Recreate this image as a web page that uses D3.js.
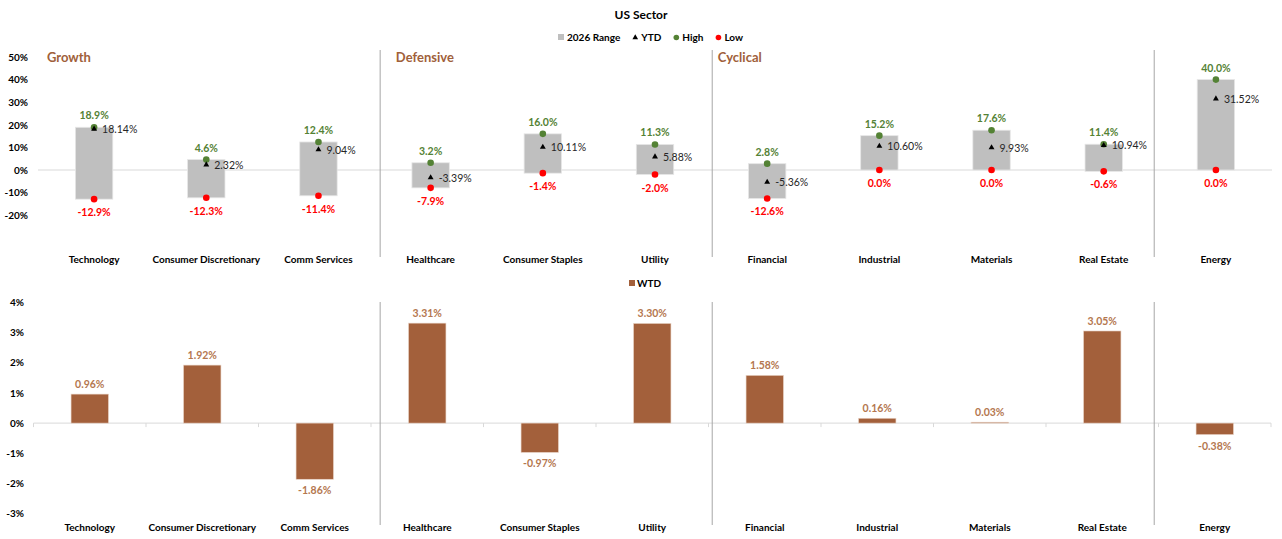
<!DOCTYPE html>
<html>
<head>
<meta charset="utf-8">
<script src="https://cdn.jsdelivr.net/npm/d3@7"></script>
<style>
  body { margin: 0; background: #fff; }
  svg { font-family: Lato, 'Open Sans', sans-serif; display: block; }
</style>
</head>
<body>
<div id="chart"></div>
<script>
// Data
const categories = ['Technology', 'Consumer Discretionary', 'Comm Services', 'Healthcare', 'Consumer Staples',
  'Utility', 'Financial', 'Industrial', 'Materials', 'Real Estate', 'Energy'];
const high = [18.9, 4.6, 12.4, 3.2, 16.0, 11.3, 2.8, 15.2, 17.6, 11.4, 40.0];
const low = [-12.9, -12.3, -11.4, -7.9, -1.4, -2.0, -12.6, 0.0, 0.0, -0.6, 0.0];
const ytd = [18.14, 2.32, 9.04, -3.39, 10.11, 5.88, -5.36, 10.60, 9.93, 10.94, 31.52];
const wtd = [0.96, 1.92, -1.86, 3.31, -0.97, 3.30, 1.58, 0.16, 0.03, 3.05, -0.38];

const groupNames = ['Growth', 'Defensive', 'Cyclical'];
const groupLabelAt = [0.08, 3.19, 6.06]; // in category units
const dividerAt = [3.05, 6.01, 9.95]; // in category units

const topTicks = [-20, -10, 0, 10, 20, 30, 40, 50];
const bottomTicks = [-3, -2, -1, 0, 1, 2, 3, 4];

const W = 1282;
const H = 539;

const gray = '#bfbfbf';
const green = '#548235';
const red = '#ff0000';
const brown = '#a3603b';
const brownText = '#b4774f';
const groupColor = '#a0603a';

const svg = d3
  .select('#chart')
  .append('svg')
  .attr('width', W)
  .attr('height', H);

// scales
const xTop = d3.scaleBand().domain(categories).range([38, 1272]);
const xBot = d3.scaleBand().domain(categories).range([33.5, 1271]);
const xUnits = d3.scaleLinear().domain([0, categories.length]).range([38, 1272]);

const yTop = d3.scaleLinear().domain([-20, 50]).range([215.2, 57]);
const yBot = d3.scaleLinear().domain([-3, 4]).range([513.7, 302.3]);

const barW = xTop.bandwidth() / 3;
const fmt1 = (v) => `${v.toFixed(1)}%`;
const fmt2 = (v) => `${v.toFixed(2)}%`;

// title
svg.append('text')
  .attr('x', 641)
  .attr('y', 19)
  .attr('text-anchor', 'middle')
  .attr('font-size', 12)
  .attr('font-weight', 'bold')
  .text('US Sector');

// TOP CHART
const topChart = svg.append('g');

// y axis
topChart.append('g')
  .attr('transform', 'translate(28,0)')
  .call(d3.axisLeft(yTop).tickValues(topTicks).tickSize(0).tickPadding(0).tickFormat((d) => `${d}%`))
  .call((g) => g.select('.domain').remove())
  .selectAll('text')
  .attr('font-family', 'Lato, sans-serif')
  .attr('font-size', 10)
  .attr('font-weight', 'bold')
  .attr('fill', '#000');

// zero line
topChart.append('line')
  .attr('x1', 38)
  .attr('x2', 1272)
  .attr('y1', yTop(0))
  .attr('y2', yTop(0))
  .attr('stroke', '#d9d9d9')
  .attr('stroke-width', 1);

// dividers
topChart.selectAll('.divTop')
  .data(dividerAt)
  .join('line')
  .attr('x1', (d) => xUnits(d))
  .attr('x2', (d) => xUnits(d))
  .attr('y1', 50)
  .attr('y2', 257)
  .attr('stroke', '#a6a6a6')
  .attr('stroke-width', 1);

// group labels
topChart.selectAll('.grp')
  .data(groupNames)
  .join('text')
  .attr('x', (d, i) => xUnits(groupLabelAt[i]))
  .attr('y', 62)
  .attr('font-size', 13)
  .attr('font-weight', 'bold')
  .attr('fill', groupColor)
  .text((d) => d);

// range bars
topChart.selectAll('.range')
  .data(categories)
  .join('rect')
  .attr('x', (d) => xTop(d) + xTop.bandwidth() / 2 - barW / 2)
  .attr('y', (d, i) => yTop(high[i]))
  .attr('width', barW)
  .attr('height', (d, i) => yTop(low[i]) - yTop(high[i]))
  .attr('fill', gray)
  .attr('stroke', '#e6e6e6')
  .attr('stroke-width', 0.8);

const cx = (d) => xTop(d) + xTop.bandwidth() / 2;

// high dots + labels
topChart.selectAll('.hi')
  .data(categories)
  .join('circle')
  .attr('cx', cx)
  .attr('cy', (d, i) => yTop(high[i]))
  .attr('r', 3.3)
  .attr('fill', green);

topChart.selectAll('.hiLbl')
  .data(categories)
  .join('text')
  .attr('x', cx)
  .attr('y', (d, i) => yTop(high[i]) - 8)
  .attr('text-anchor', 'middle')
  .attr('font-size', 10.5)
  .attr('font-weight', 'bold')
  .attr('fill', green)
  .text((d, i) => fmt1(high[i]));

// low dots + labels
topChart.selectAll('.lo')
  .data(categories)
  .join('circle')
  .attr('cx', cx)
  .attr('cy', (d, i) => yTop(low[i]))
  .attr('r', 3.3)
  .attr('fill', red);

topChart.selectAll('.loLbl')
  .data(categories)
  .join('text')
  .attr('x', cx)
  .attr('y', (d, i) => yTop(low[i]) + 17)
  .attr('text-anchor', 'middle')
  .attr('font-size', 10.5)
  .attr('font-weight', 'bold')
  .attr('fill', red)
  .text((d, i) => fmt1(low[i]));

// ytd triangles + labels
const tri = d3.symbol().type(d3.symbolTriangle).size(15);
topChart.selectAll('.ytd')
  .data(categories)
  .join('path')
  .attr('d', tri)
  .attr('transform', (d, i) => `translate(${cx(d)},${yTop(ytd[i])})`)
  .attr('fill', '#000');

topChart.selectAll('.ytdLbl')
  .data(categories)
  .join('text')
  .attr('x', (d) => cx(d) + 8)
  .attr('y', (d, i) => yTop(ytd[i]) + 4)
  .attr('font-size', 10.5)
  .attr('fill', '#262626')
  .text((d, i) => fmt2(ytd[i]));

// category labels
topChart.selectAll('.catTop')
  .data(categories)
  .join('text')
  .attr('x', cx)
  .attr('y', 263)
  .attr('text-anchor', 'middle')
  .attr('font-size', 10)
  .attr('font-weight', 'bold')
  .text((d) => d);

// legend (top)
const legend = svg.append('g').attr('font-size', 10).attr('font-weight', 'bold');
const legendItems = [
  { key: '2026 Range', shape: 'rect', color: gray },
  { key: 'YTD', shape: 'tri', color: '#000' },
  { key: 'High', shape: 'dot', color: green },
  { key: 'Low', shape: 'dot', color: red },
];
let lx = 558;
legendItems.forEach((it) => {
  if (it.shape === 'rect') {
    legend.append('rect').attr('x', lx).attr('y', 34).attr('width', 6).attr('height', 6).attr('fill', it.color);
  } else if (it.shape === 'tri') {
    legend.append('path').attr('d', d3.symbol().type(d3.symbolTriangle).size(14)).attr('transform', `translate(${lx + 3},37.5)`).attr('fill', it.color);
  } else {
    legend.append('circle').attr('cx', lx + 3).attr('cy', 37.5).attr('r', 2.8).attr('fill', it.color);
  }
  const t = legend.append('text').attr('x', lx + 9).attr('y', 41).text(it.key);
  lx += 9 + t.node().getComputedTextLength() + 12;
});

// BOTTOM CHART
const botChart = svg.append('g');

botChart.append('g')
  .attr('transform', 'translate(24,0)')
  .call(d3.axisLeft(yBot).tickValues(bottomTicks).tickSize(0).tickPadding(0).tickFormat((d) => `${d}%`))
  .call((g) => g.select('.domain').remove())
  .selectAll('text')
  .attr('font-family', 'Lato, sans-serif')
  .attr('font-size', 10)
  .attr('font-weight', 'bold')
  .attr('fill', '#000');

// zero line with boundary ticks
botChart.append('line')
  .attr('x1', 33.5)
  .attr('x2', 1271)
  .attr('y1', yBot(0))
  .attr('y2', yBot(0))
  .attr('stroke', '#d9d9d9');

botChart.selectAll('.tk')
  .data(d3.range(categories.length + 1))
  .join('line')
  .attr('x1', (i) => 33.5 + i * xBot.step())
  .attr('x2', (i) => 33.5 + i * xBot.step())
  .attr('y1', yBot(0))
  .attr('y2', yBot(0) + 4)
  .attr('stroke', '#d9d9d9');

botChart.selectAll('.divBot')
  .data(dividerAt)
  .join('line')
  .attr('x1', (d) => xUnits(d))
  .attr('x2', (d) => xUnits(d))
  .attr('y1', 302)
  .attr('y2', 525)
  .attr('stroke', '#a6a6a6');

const bx = (d) => xBot(d) + xBot.bandwidth() / 2;

botChart.selectAll('.wtd')
  .data(categories)
  .join('rect')
  .attr('x', (d) => bx(d) - barW / 2)
  .attr('y', (d, i) => yBot(Math.max(0, wtd[i])))
  .attr('width', barW)
  .attr('height', (d, i) => Math.abs(yBot(wtd[i]) - yBot(0)))
  .attr('fill', brown)
  .attr('stroke', '#e8d3c6')
  .attr('stroke-width', 0.6);

botChart.selectAll('.wtdLbl')
  .data(categories)
  .join('text')
  .attr('x', bx)
  .attr('y', (d, i) => (wtd[i] >= 0 ? yBot(wtd[i]) - 6 : yBot(wtd[i]) + 15))
  .attr('text-anchor', 'middle')
  .attr('font-size', 10.5)
  .attr('font-weight', 'bold')
  .attr('fill', brownText)
  .text((d, i) => fmt2(wtd[i]));

botChart.selectAll('.catBot')
  .data(categories)
  .join('text')
  .attr('x', bx)
  .attr('y', 531)
  .attr('text-anchor', 'middle')
  .attr('font-size', 10)
  .attr('font-weight', 'bold')
  .text((d) => d);

// legend (bottom)
const legend2 = svg.append('g').attr('font-size', 10).attr('font-weight', 'bold');
legend2.append('rect').attr('x', 629).attr('y', 280).attr('width', 6).attr('height', 6).attr('fill', brown);
legend2.append('text').attr('x', 637).attr('y', 287).text('WTD');
</script>
</body>
</html>
